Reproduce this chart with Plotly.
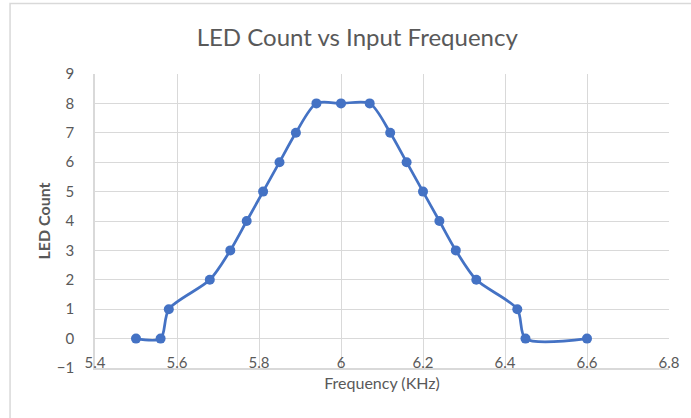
import plotly.graph_objects as go

freq_khz = [5.5, 5.56, 5.58, 5.68, 5.73, 5.77, 5.81, 5.85, 5.89, 5.94, 6.0, 6.07,
            6.12, 6.16, 6.2, 6.24, 6.28, 6.33, 6.43, 6.45, 6.6]
led_count = [0, 0, 1, 2, 3, 4, 5, 6, 7, 8, 8, 8,
             7, 6, 5, 4, 3, 2, 1, 0, 0]

x_ticks = [5.4, 5.6, 5.8, 6.0, 6.2, 6.4, 6.6, 6.8]
x_tick_text = ["5.4", "5.6", "5.8", "6", "6.2", "6.4", "6.6", "6.8"]
y_ticks = list(range(-1, 10))

blue = "#4472C4"
grey_txt = "#595959"
grid = "#D9D9D9"
font_family = "Lato, Open Sans, sans-serif"

fig = go.Figure()
fig.add_trace(go.Scatter(
    x=freq_khz, y=led_count, mode="lines+markers",
    line=dict(color=blue, width=2.75, shape="spline", smoothing=0.8),
    marker=dict(color=blue, size=10),
    showlegend=False,
))

fig.update_layout(
    width=691, height=418,
    margin=dict(l=95, r=22, t=74, b=50),
    paper_bgcolor="white", plot_bgcolor="white",
    font=dict(family=font_family, color=grey_txt, size=15),
    title=dict(text="LED Count vs Input Frequency", x=0.517, xanchor="center",
               y=0.911, yanchor="middle",
               font=dict(size=24, color=grey_txt, family=font_family)),
    xaxis=dict(range=[5.4, 6.8], tickvals=x_ticks, ticktext=x_tick_text,
               showgrid=True, gridcolor=grid, gridwidth=1, zeroline=False,
               showline=True, linecolor=grid, linewidth=1.5, mirror=False,
               ticks="", ticklabelstandoff=-20,
               tickfont=dict(size=15, color=grey_txt),
               title=dict(text="Frequency (KHz)", font=dict(size=16, color=grey_txt),
                          standoff=8)),
    yaxis=dict(range=[-1, 9], tickvals=y_ticks,
               showgrid=True, gridcolor=grid, gridwidth=1, zeroline=False,
               showline=True, linecolor=grid, linewidth=1.5,
               ticks="", tickfont=dict(size=15, color=grey_txt),
               ticklabelstandoff=16,
               title=dict(text="<b>LED Count</b>", font=dict(size=16, color=grey_txt),
                          standoff=2)),
    shapes=[dict(type="rect", xref="paper", yref="paper",
                 x0=-0.148, x1=1.2, y0=-0.4, y1=1.24,
                 line=dict(color="#D9D9D9", width=1.5), fillcolor="rgba(0,0,0,0)",
                 layer="below")],
)

fig.write_html("out.html")
